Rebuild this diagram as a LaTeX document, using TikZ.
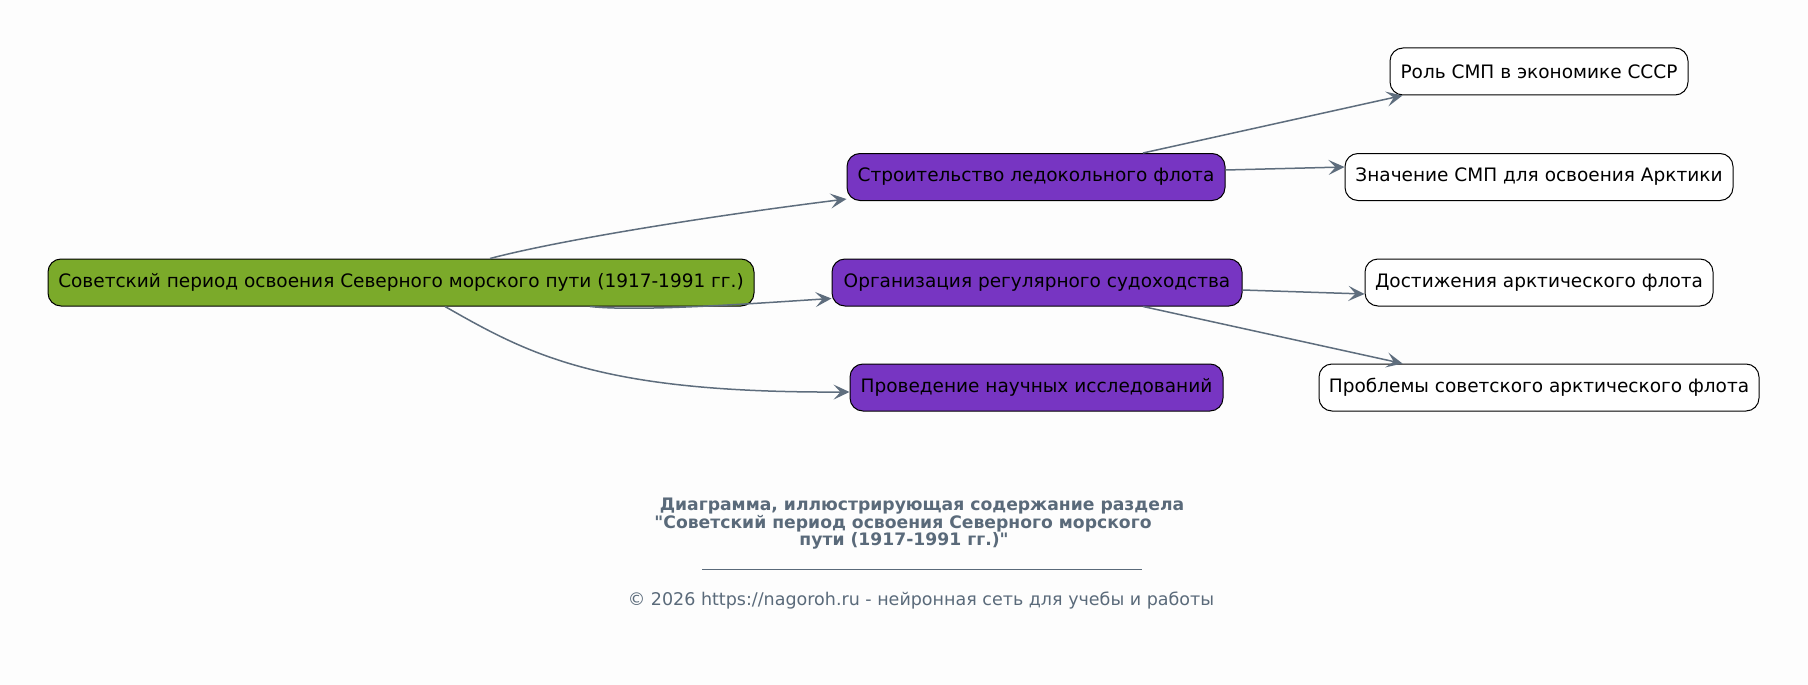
\documentclass[tikz,border=0pt]{standalone}
\usepackage{fontspec}
\setmainfont{DejaVu Sans}[Ligatures=TeXOff]
\usetikzlibrary{arrows.meta,calc}
\definecolor{bg}{HTML}{FDFDFD}
\definecolor{rootc}{HTML}{7BAA2A}
\definecolor{midc}{HTML}{7735C2}
\definecolor{edgec}{HTML}{5E6D7D}
\definecolor{titlec}{HTML}{5A6A7A}
\begin{document}
\begin{tikzpicture}[x=1pt,y=-1pt,
  box/.style={draw=black,line width=1pt,rounded corners=13pt,inner sep=0pt,minimum height=47pt,font=\fontsize{18.5}{21}\selectfont,text=black},
  rootbox/.style={box,fill=rootc},
  midbox/.style={box,fill=midc},
  leafbox/.style={box,fill=white},
  conn/.style={draw=edgec,line width=1.5pt,-{Stealth[length=16pt,width=15pt,inset=7pt]}},
  titletext/.style={font=\fontsize{17.2}{20}\selectfont\bfseries,text=titlec}
]
\fill[bg] (0,0) rectangle (1808,685);
\useasboundingbox (0,0) rectangle (1808,685);

\node[rootbox,minimum width=706pt] (root) at (401,282.5) {Советский период освоения Северного морского пути (1917-1991 гг.)};
\node[midbox,minimum width=378pt] (s1) at (1036,177) {Строительство ледокольного флота};
\node[midbox,minimum width=410pt] (o1) at (1037,282.5) {Организация регулярного судоходства};
\node[midbox,minimum width=373pt] (p1) at (1036.5,387.5) {Проведение научных исследований};
\node[leafbox,minimum width=298pt] (r1) at (1539,71.5) {Роль СМП в экономике СССР};
\node[leafbox,minimum width=388pt] (z1) at (1539,177) {Значение СМП для освоения Арктики};
\node[leafbox,minimum width=348pt] (d1) at (1539,282.5) {Достижения арктического флота};
\node[leafbox,minimum width=440pt] (pr1) at (1539,387.5) {Проблемы советского арктического флота};

\draw[conn] ([xshift=89pt]root.north) .. controls (560,240) and (710,216) .. ([yshift=2pt]s1.south west);
\draw[conn] ([xshift=189pt]root.south) .. controls (640,312) and (760,303) .. ([yshift=8pt]o1.south west);
\draw[conn] ([xshift=44pt]root.south) .. controls (530,355) and (600,393) .. ([yshift=-4.5pt]p1.west);
\draw[conn] ([xshift=107pt]s1.north) -- ([xshift=13pt]r1.south west);
\draw[conn] ([yshift=7pt]s1.east) -- ([yshift=10pt]z1.west);
\draw[conn] ([yshift=-7.5pt]o1.east) -- ([yshift=-11.5pt]d1.west);
\draw[conn] ([xshift=106pt]o1.south) -- ([xshift=84pt]pr1.north west);

\node[titletext] (t1) at (922,506) {Диаграмма, иллюстрирующая содержание раздела};
\node[titletext] (t2) at (903,524) {"Советский период освоения Северного морского};
\node[titletext] (t3) at (904,541) {пути (1917-1991 гг.)"};
\coordinate (u1) at (702,569);
\coordinate (u2) at (1142,569);
\draw[titlec,line width=0.8pt] (u1) -- (u2);
\node[font=\fontsize{17.5}{20}\selectfont,text=titlec] (cp) at (921,601) {© 2026 https://nagoroh.ru - нейронная сеть для учебы и работы};
\end{tikzpicture}
\end{document}
